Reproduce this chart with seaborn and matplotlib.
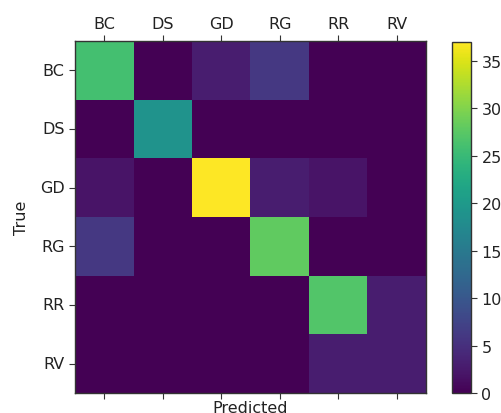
import numpy as np
import pandas as pd
import seaborn as sns
import matplotlib
matplotlib.use("Agg")
import matplotlib.pyplot as plt

# Class labels (true rows, predicted columns)
labels = ["BC", "DS", "GD", "RG", "RR", "RV"]

# Confusion-matrix counts, one list per true class
row_bc = [26, 0, 3, 6, 0, 0]
row_ds = [0, 19, 0, 0, 0, 0]
row_gd = [2, 0, 37, 3, 2, 0]
row_rg = [6, 0, 0, 28, 0, 0]
row_rr = [0, 0, 0, 0, 27, 3]
row_rv = [0, 0, 0, 0, 3, 3]

cbar_ticks = [0, 5, 10, 15, 20, 25, 30, 35]

cm = pd.DataFrame([row_bc, row_ds, row_gd, row_rg, row_rr, row_rv],
                  index=labels, columns=labels)

W, H = 502, 414
fig = plt.figure(figsize=(W / 100, H / 100), dpi=100)
ax = fig.add_axes([75 / W, 1 - 394 / H, 351 / W, 352 / H])
cax = fig.add_axes([452 / W, 1 - 394 / H, 19 / W, 351 / H])

sns.heatmap(cm, cmap="viridis", vmin=0, vmax=37, ax=ax, cbar_ax=cax,
            cbar_kws={"ticks": cbar_ticks})

# frame around the matrix
for s in ax.spines.values():
    s.set_visible(True)
    s.set_color("#333333")
    s.set_linewidth(1.0)

fs = 11.5
ax.set_xticklabels(labels, rotation=0, fontsize=fs, color="#222222")
ax.set_yticklabels(labels, rotation=0, fontsize=fs, color="#222222")
ax.tick_params(axis="x", top=True, bottom=True, labeltop=True, labelbottom=False,
               length=4, width=0.8, color="#333333")
ax.tick_params(axis="y", left=True, length=4, width=0.8, color="#333333")
ax.set_xlabel("Predicted", fontsize=fs, color="#222222", labelpad=1)
ax.set_ylabel("True", fontsize=fs, color="#222222", labelpad=8)

cb = ax.collections[0].colorbar
cb.outline.set_visible(True)
cb.outline.set_linewidth(1.0)
cb.outline.set_edgecolor("#333333")
cax.tick_params(labelsize=fs, length=4, width=0.8, color="#333333", labelcolor="#222222")

fig.savefig("out.png", dpi=100)
